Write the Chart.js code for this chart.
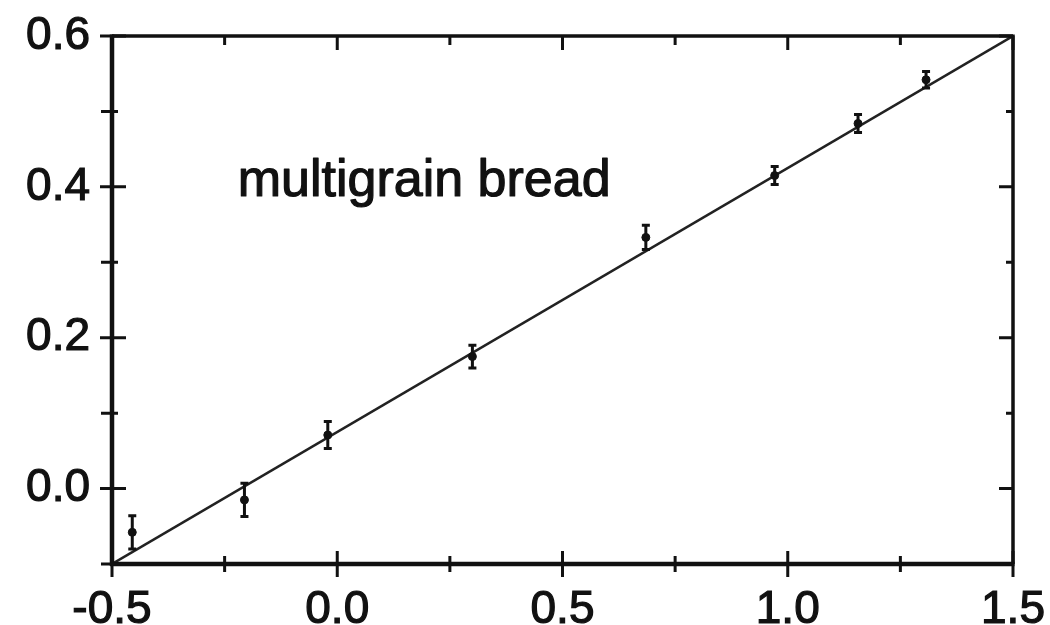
<!DOCTYPE html>
<html>
<head>
<meta charset="utf-8">
<script src="https://cdn.jsdelivr.net/npm/chart.js@4/dist/chart.umd.min.js"></script>
<style>
html,body{margin:0;padding:0;background:#fff;}
#wrap{width:1050px;height:625px;}
</style>
</head>
<body>
<div id="wrap"><canvas id="c" width="1050" height="625"></canvas></div>
<script>
const xVals = [-0.455, -0.206, -0.021, 0.300, 0.685, 0.971, 1.156, 1.307];
const yVals = [-0.058, -0.015, 0.071, 0.175, 0.333, 0.415, 0.484, 0.542];
const yErr  = [0.022, 0.022, 0.018, 0.015, 0.016, 0.012, 0.012, 0.011];
// Fitted line end points
const fitX = [-0.5, 1.5];
const fitY = [-0.1, 0.6];
// Axis ticks
const xTicks = [-0.5, 0.0, 0.5, 1.0, 1.5];
const xMinor = [-0.25, 0.25, 0.75, 1.25];
const yTicks = [0.0, 0.2, 0.4, 0.6];
const yMinor = [-0.1, 0.1, 0.3, 0.5];
const label = {text: 'multigrain bread', x: -0.221, y: 0.388};

const FONT = "'Liberation Sans', Arial, sans-serif";

const framePlugin = {
  id: 'frame',
  afterDatasetsDraw(chart) {
    const ctx = chart.ctx;
    const xs = chart.scales.x, ys = chart.scales.y;
    const a = chart.chartArea;
    ctx.save();
    ctx.strokeStyle = '#111';
    ctx.lineCap = 'butt';
    // error bars
    ctx.lineWidth = 3;
    for (let i = 0; i < xVals.length; i++) {
      const px = xs.getPixelForValue(xVals[i]);
      const top = ys.getPixelForValue(yVals[i] + yErr[i]);
      const bot = ys.getPixelForValue(yVals[i] - yErr[i]);
      ctx.beginPath();
      ctx.moveTo(px, top); ctx.lineTo(px, bot);
      ctx.moveTo(px - 4, top); ctx.lineTo(px + 4, top);
      ctx.moveTo(px - 4, bot); ctx.lineTo(px + 4, bot);
      ctx.stroke();
    }
    // frame
    ctx.lineWidth = 3.5;
    ctx.beginPath();
    ctx.moveTo(a.left, a.top); ctx.lineTo(a.right, a.top);
    ctx.moveTo(a.right, a.top - 1.5); ctx.lineTo(a.right, a.bottom);
    ctx.stroke();
    ctx.lineWidth = 4.5;
    ctx.beginPath();
    ctx.moveTo(a.left, a.top - 1.5); ctx.lineTo(a.left, a.bottom + 2);
    ctx.moveTo(a.left - 2, a.bottom); ctx.lineTo(a.right + 1.5, a.bottom);
    ctx.stroke();
    // ticks
    ctx.lineWidth = 3;
    ctx.beginPath();
    xTicks.forEach(v => {
      const p = xs.getPixelForValue(v);
      ctx.moveTo(p, a.bottom + 13); ctx.lineTo(p, a.bottom - 13);
      ctx.moveTo(p, a.top); ctx.lineTo(p, a.top + 14);
    });
    xMinor.forEach(v => {
      const p = xs.getPixelForValue(v);
      ctx.moveTo(p, a.bottom + 8); ctx.lineTo(p, a.bottom - 8);
      ctx.moveTo(p, a.top); ctx.lineTo(p, a.top + 9);
    });
    yTicks.forEach(v => {
      const p = ys.getPixelForValue(v);
      ctx.moveTo(a.left - 12, p); ctx.lineTo(a.left + 14, p);
      ctx.moveTo(a.right, p); ctx.lineTo(a.right - 14, p);
    });
    yMinor.forEach(v => {
      const p = ys.getPixelForValue(v);
      ctx.moveTo(a.left - 11, p); ctx.lineTo(a.left + 6, p);
      ctx.moveTo(a.right, p); ctx.lineTo(a.right - 7, p);
    });
    ctx.stroke();
    // annotation text
    ctx.fillStyle = '#111';
    ctx.font = '52px ' + FONT;
    ctx.textAlign = 'left';
    ctx.textBaseline = 'alphabetic';
    ctx.lineWidth = 1.2;
    ctx.lineJoin = 'round';
    const tx = xs.getPixelForValue(label.x), ty = ys.getPixelForValue(label.y);
    ctx.fillText(label.text, tx, ty);
    ctx.strokeText(label.text, tx, ty);
    ctx.restore();
  }
};

new Chart(document.getElementById('c'), {
  type: 'scatter',
  data: {
    datasets: [
      {
        type: 'line',
        data: fitX.map((x, i) => ({x, y: fitY[i]})),
        borderColor: '#222',
        borderWidth: 2.5,
        pointRadius: 0,
        fill: false,
        order: 2
      },
      {
        data: xVals.map((x, i) => ({x, y: yVals[i]})),
        backgroundColor: '#111',
        borderColor: '#111',
        pointRadius: 4,
        order: 1
      }
    ]
  },
  options: {
    responsive: false,
    animation: false,
    devicePixelRatio: 1,
    layout: {padding: {top: 36, right: 37, left: 0, bottom: 0}},
    plugins: {legend: {display: false}, tooltip: {enabled: false}},
    scales: {
      x: {
        type: 'linear', min: -0.5, max: 1.5,
        afterBuildTicks: s => { s.ticks = xTicks.map(v => ({value: v})); },
        afterFit: s => { s.height = 61; s.paddingLeft = 0; s.paddingRight = 0; },
        grid: {display: false, drawTicks: false},
        border: {display: false},
        ticks: {
          color: '#111', padding: 19,
          font: {family: FONT, size: 46},
          textStrokeColor: '#111', textStrokeWidth: 1.2,
          callback: v => v.toFixed(1),
          maxRotation: 0, autoSkip: false
        }
      },
      y: {
        type: 'linear', min: -0.1, max: 0.6,
        afterBuildTicks: s => { s.ticks = yTicks.map(v => ({value: v})); },
        afterFit: s => { s.width = 112; s.paddingTop = 0; s.paddingBottom = 0; },
        grid: {display: false, drawTicks: false},
        border: {display: false},
        ticks: {
          color: '#111', padding: 22,
          font: {family: FONT, size: 46},
          textStrokeColor: '#111', textStrokeWidth: 1.2,
          callback: v => v.toFixed(1)
        }
      }
    }
  },
  plugins: [framePlugin]
});
</script>
</body>
</html>
